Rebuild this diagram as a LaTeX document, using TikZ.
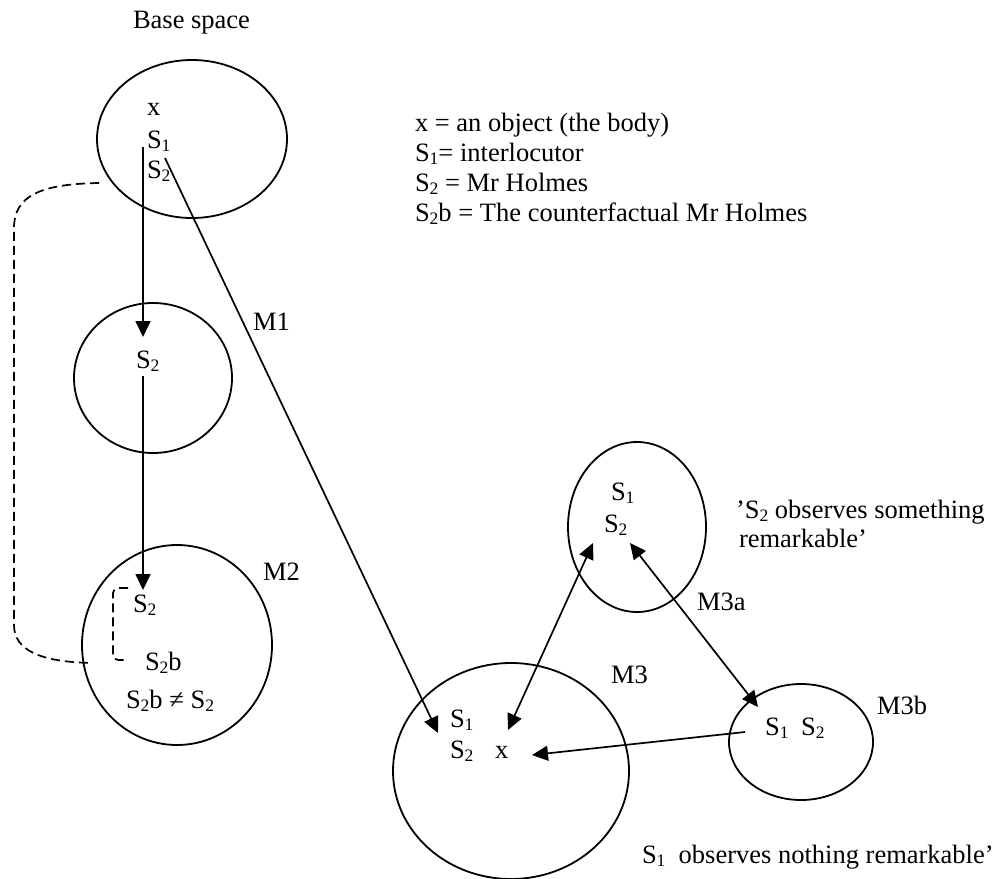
\documentclass[tikz,border=0pt]{standalone}
\usepackage{fontspec}
\setmainfont{Liberation Serif}
\usetikzlibrary{arrows.meta,shapes.geometric}
\newcommand\sbs[1]{\raisebox{-0.15em}{\fontsize{17.5}{17.5}\selectfont #1}}
\begin{document}
\begin{tikzpicture}[x=1pt,y=-1pt,
  every node/.style={inner sep=0pt,outer sep=0pt},
  txt/.style={anchor=base west,font=\fontsize{26.5}{30}\selectfont},
  space/.style={draw,ellipse,line width=1.8pt},
  link/.style={line width=1.7pt,-{Triangle[length=16pt,width=15pt]}},
  dlink/.style={line width=1.7pt,{Triangle[length=16pt,width=15pt]}-{Triangle[length=16pt,width=15pt]}},
  corr/.style={line width=1.7pt,dash pattern=on 9pt off 5pt}]
\useasboundingbox (0,0) rectangle (995,878);

% mental spaces
\node[space,minimum width=190pt,minimum height=158pt] (base) at (192,139) {};
\node[space,minimum width=158pt,minimum height=150pt] (m1) at (153,378) {};
\node[space,minimum width=190pt,minimum height=200pt] (m2) at (177,645) {};
\node[space,minimum width=236pt,minimum height=216pt] (m3) at (511,771) {};
\node[space,minimum width=138pt,minimum height=170pt] (m3a) at (637,527) {};
\node[space,minimum width=144pt,minimum height=116pt] (m3b) at (801,742) {};

% labels of the spaces
\node[txt] (tbase) at (133,28) {Base space};
\node[txt] (tm1) at (253,330) {M1};
\node[txt] (tm2) at (263,580) {M2};
\node[txt] (tm3) at (611,683) {M3};
\node[txt] (tm3a) at (697,610) {M3a};
\node[txt] (tm3b) at (877,714) {M3b};

% legend
\node[txt] (leg1) at (415,131) {x = an object (the body)};
\node[txt] (leg2) at (415,161) {S\sbs{1}= interlocutor};
\node[txt] (leg3) at (415,191) {S\sbs{2} = Mr Holmes};
\node[txt] (leg4) at (415,221) {S\sbs{2}b = The counterfactual Mr Holmes};

% base space contents
\node[txt] (bx) at (147,115) {x};
\node[txt] (bs1) at (147,148) {S\sbs{1}};
\node[txt] (bs2) at (147,178) {S\sbs{2}};

% M1 and M2 contents
\node[txt] (m1s2) at (136,368) {S\sbs{2}};
\node[txt] (m2s2) at (133,612) {S\sbs{2}};
\node[txt] (m2s2b) at (145,670) {S\sbs{2}b};
\node[txt] (m2neq) at (126,708) {S\sbs{2}b ≠ S\sbs{2}};

% M3, M3a, M3b contents
\node[txt] (m3s1) at (450,727) {S\sbs{1}};
\node[txt] (m3s2) at (450,758) {S\sbs{2}};
\node[txt] (m3x) at (495,758) {x};
\node[txt] (m3as1) at (611,500) {S\sbs{1}};
\node[txt] (m3as2) at (604,532) {S\sbs{2}};
\node[txt] (m3bs1) at (765,735) {S\sbs{1}};
\node[txt] (m3bs2) at (801,735) {S\sbs{2}};

% readings of the spaces
\node[txt] (obs2a) at (736,518) {’S\sbs{2} observes something};
\node[txt] (obs2b) at (739,547) {remarkable’};
\node[txt] (obs1) at (642,863) {S\sbs{1}\ \ observes nothing remarkable’};

% connector end points
\coordinate (b0) at (143,147);
\coordinate (m1in) at (143,337);
\coordinate (m1out) at (143,376);
\coordinate (m2in) at (143,590);
\coordinate (bdiag) at (165,158);
\coordinate (m3in) at (438,733);
\coordinate (m3aL) at (593,543);
\coordinate (m3xin) at (508,730);
\coordinate (m3aR) at (630,543);
\coordinate (m3bin) at (758,707);
\coordinate (m3bout) at (745,732);
\coordinate (m3xR) at (532,755);

\draw[link] (b0) -- (m1in);
\draw[link] (m1out) -- (m2in);
\draw[link] (bdiag) -- (m3in);
\draw[dlink] (m3aL) -- (m3xin);
\draw[dlink] (m3aR) -- (m3bin);
\draw[link] (m3bout) -- (m3xR);

% counterpart links
\coordinate (cbase) at (99,183);
\coordinate (cm2) at (92,663);
\draw[corr] (cbase) .. controls (40,184) and (14,196) .. (14,228)
  -- (14,625) .. controls (14,650) and (40,662) .. (cm2);
\coordinate (is2) at (128,588);
\coordinate (is2b) at (124,660);
\draw[corr,rounded corners=5pt] (is2) -- (113,588) -- (113,660) -- (is2b);
\end{tikzpicture}
\end{document}
